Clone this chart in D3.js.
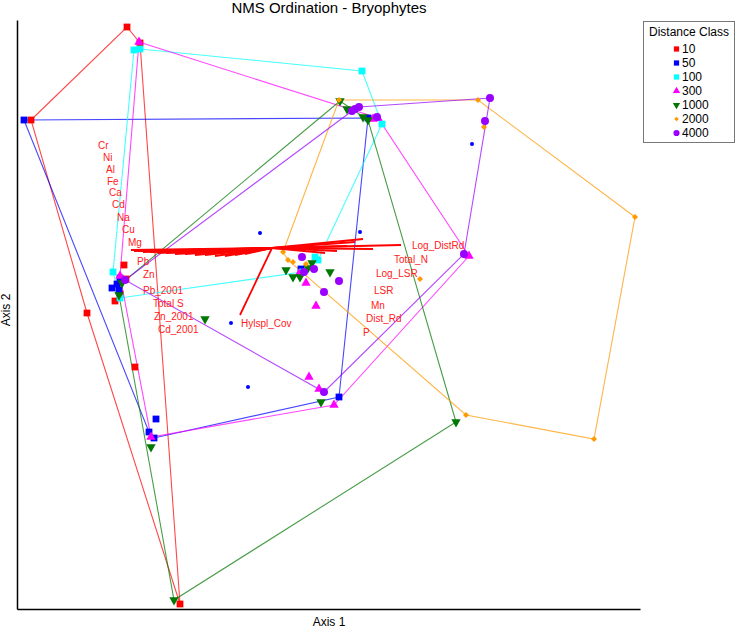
<!DOCTYPE html>
<html><head><meta charset="utf-8">
<script src="https://cdn.jsdelivr.net/npm/d3@7"></script>
<style>body{margin:0;background:#fff;} svg{display:block;font-family:"Liberation Sans",Arial,sans-serif;}</style>
</head><body>
<svg id="c" width="737" height="628"></svg>
<script>
// ---- data (NMS axis scores) ----
const classes = ["10","50","100","300","1000","2000","4000"];
const classColors = ["#FF0000","#0000FF","#00FFFF","#FF00FF","#007700","#FF9900","#9900FF"];
const pts10 = [[-1.90,2.83],[-1.77,2.67],[-2.86,1.90],[-2.30,-0.03],[-1.82,-0.57],[-1.37,-2.94],[-1.93,0.45],[-1.91,0.31],[-1.97,0.16],[-2.02,0.09]];
const pts50 = [[-2.93,1.90],[0.51,1.92],[0.22,-0.87],[-1.63,-1.28],[-1.68,-1.22],[-1.61,-1.09],[-0.16,0.41],[-1.97,0.32],[-2.00,0.26],[-2.05,0.22],[-1.98,0.20]];
const pts100 = [[-1.83,2.60],[-1.77,2.61],[0.45,2.39],[0.65,1.86],[0.01,0.50],[-0.02,0.53],[-0.15,0.38],[-1.97,0.12],[-2.04,0.38]];
const pts300 = [[-1.78,2.68],[0.56,1.91],[0.61,1.92],[1.52,0.54],[0.17,-0.95],[-1.66,-1.27],[-1.97,0.34],[-0.11,0.27],[-0.01,0.04],[-0.08,-0.67],[0.02,-0.79],[-0.18,0.36]];
const pts1000 = [[0.23,2.09],[0.30,2.01],[0.46,1.93],[0.51,1.90],[1.39,-1.12],[-1.43,-2.90],[-1.66,-1.37],[0.04,-0.92],[-1.12,-0.09],[-0.31,0.40],[-0.24,0.33],[-0.17,0.33],[-0.09,0.42],[-0.05,0.47],[0.13,0.38],[-1.95,0.27],[-1.98,0.15]];
const pts2000 = [[0.22,2.10],[1.61,2.10],[1.67,1.83],[3.18,0.93],[2.77,-1.29],[1.49,-1.05],[1.03,0.31],[-0.34,0.58],[-0.29,0.50],[-0.24,0.48],[-0.11,0.46]];
const pts4000 = [[1.73,2.12],[1.68,1.89],[0.35,1.99],[0.38,2.01],[0.42,2.03],[0.60,1.93],[1.47,0.56],[0.07,-0.82],[-0.15,0.53],[-0.03,0.41],[-0.13,0.38],[0.22,0.29],[0.07,0.18],[-1.92,0.30]];
const extraPts = [[-0.57,0.77],[0.43,0.78],[-0.86,-0.13],[-0.69,-0.77],[1.55,1.66]];

// biplot vectors
const vecOrigin = [-0.45, 0.62];
const vecNames = ["Cr","Ni","Al","Fe","Ca","Cd","Na","Cu","Mg","Pb","Zn","Pb_2001","Total S","Zn_2001","Cd_2001","Hylspl_Cov","Log_DistRd","Total_N","Log_LSR","LSR","Mn","Dist_Rd","P"];
const vecTips = [[-1.86,0.60],[-1.83,0.59],[-1.79,0.59],[-1.74,0.58],[-1.67,0.58],[-1.59,0.57],[-1.51,0.57],[-1.42,0.56],[-1.32,0.56],[-1.22,0.55],[-1.12,0.55],[-1.02,0.54],[-0.92,0.54],[-0.82,0.55],[-0.72,0.56],[-0.77,-0.05],[0.84,0.65],[0.56,0.61],[0.46,0.71],[0.38,0.68],[0.30,0.64],[0.20,0.59],[0.08,0.57]];
const vecLabelPos = [[-2.19,1.65],[-2.14,1.53],[-2.11,1.41],[-2.10,1.29],[-2.08,1.18],[-2.05,1.06],[-2.00,0.93],[-1.95,0.81],[-1.89,0.68],[-1.80,0.49],[-1.74,0.36],[-1.74,0.20],[-1.64,0.07],[-1.63,-0.06],[-1.59,-0.19],[-0.76,-0.13],[0.95,0.65],[0.77,0.51],[0.59,0.37],[0.57,0.20],[0.54,0.05],[0.49,-0.08],[0.46,-0.22]];

const titleText = "NMS Ordination - Bryophytes";
const xLabel = "Axis 1", yLabel = "Axis 2", legendTitle = "Distance Class";

// ---- drawing ----
const svg = d3.select("#c");
const x = d3.scaleLinear().domain([-3.0, 3.23]).range([17, 640]);
const y = d3.scaleLinear().domain([-2.99, 2.90]).range([609, 20]);

const groups = [pts10, pts50, pts100, pts300, pts1000, pts2000, pts4000];
const symTypes = [d3.symbolSquare, d3.symbolSquare, d3.symbolSquare, d3.symbolTriangle, d3.symbolTriangle, d3.symbolSquare, d3.symbolCircle];
const symSizes = [46, 46, 46, 38, 38, 18, 50];
const symRot = [0,0,0,0,180,45,0];

// hulls
const hullG = svg.append("g");
groups.forEach((g, i) => {
  const hull = d3.polygonHull(g.map(p => [x(p[0]), y(p[1])]));
  hullG.append("path")
    .attr("d", "M" + hull.join("L") + "Z")
    .attr("fill", "none")
    .attr("stroke", classColors[i])
    .attr("stroke-opacity", 0.72)
    .attr("stroke-width", 1.1);
});

// axes
svg.append("g").attr("transform", `translate(0,${y.range()[0]})`)
  .call(d3.axisBottom(x).ticks(0).tickSizeOuter(0));
svg.append("g").attr("transform", `translate(${x.range()[0]},0)`)
  .call(d3.axisLeft(y).ticks(0).tickSizeOuter(0));
svg.selectAll(".domain").attr("stroke", "#000").attr("stroke-width", 1.5);

// extra small dots
svg.append("g").selectAll("circle").data(extraPts).join("circle")
  .attr("cx", d => x(d[0])).attr("cy", d => y(d[1])).attr("r", 2).attr("fill", "#0000FF");

// points
groups.forEach((g, i) => {
  const sym = d3.symbol().type(symTypes[i]).size(symSizes[i]);
  svg.append("g").selectAll("path").data(g).join("path")
    .attr("d", sym)
    .attr("transform", d => `translate(${x(d[0])},${y(d[1])}) rotate(${symRot[i]})`)
    .attr("fill", classColors[i]);
});

// vectors
const vg = svg.append("g");
vecTips.forEach((t, i) => {
  vg.append("line")
    .attr("x1", x(vecOrigin[0])).attr("y1", y(vecOrigin[1]))
    .attr("x2", x(t[0])).attr("y2", y(t[1]))
    .attr("stroke", "#FF0000").attr("stroke-width", 1.8);
});
vg.selectAll("text").data(vecNames).join("text")
  .attr("x", (d, i) => x(vecLabelPos[i][0]))
  .attr("y", (d, i) => y(vecLabelPos[i][1]))
  .attr("dy", "0.35em")
  .attr("font-size", 10)
  .attr("fill", "#FF2020")
  .text(d => d);

// titles
svg.append("text").attr("x", 329).attr("y", 13).attr("text-anchor", "middle")
  .attr("font-size", 15).attr("fill", "#000").text(titleText);
svg.append("text").attr("x", 329).attr("y", 626).attr("text-anchor", "middle")
  .attr("font-size", 12).text(xLabel);
svg.append("text").attr("transform", "translate(10,310) rotate(-90)").attr("text-anchor", "middle")
  .attr("font-size", 12).text(yLabel);

// legend
const lg = svg.append("g");
lg.append("rect").attr("x", 643.5).attr("y", 21.5).attr("width", 91).attr("height", 121)
  .attr("fill", "#fff").attr("stroke", "#777").attr("stroke-width", 1);
lg.append("text").attr("x", 689).attr("y", 36).attr("text-anchor", "middle").attr("font-size", 12).text(legendTitle);
classes.forEach((c, i) => {
  const yy = 49 + i * 14;
  const sym = d3.symbol().type(symTypes[i]).size(symSizes[i] * 0.6);
  lg.append("path").attr("d", sym)
    .attr("transform", `translate(676.5,${yy}) rotate(${symRot[i]})`)
    .attr("fill", classColors[i]);
  lg.append("text").attr("x", 682).attr("y", yy).attr("dy", "0.36em").attr("font-size", 12).text(c);
});
</script>
</body></html>
